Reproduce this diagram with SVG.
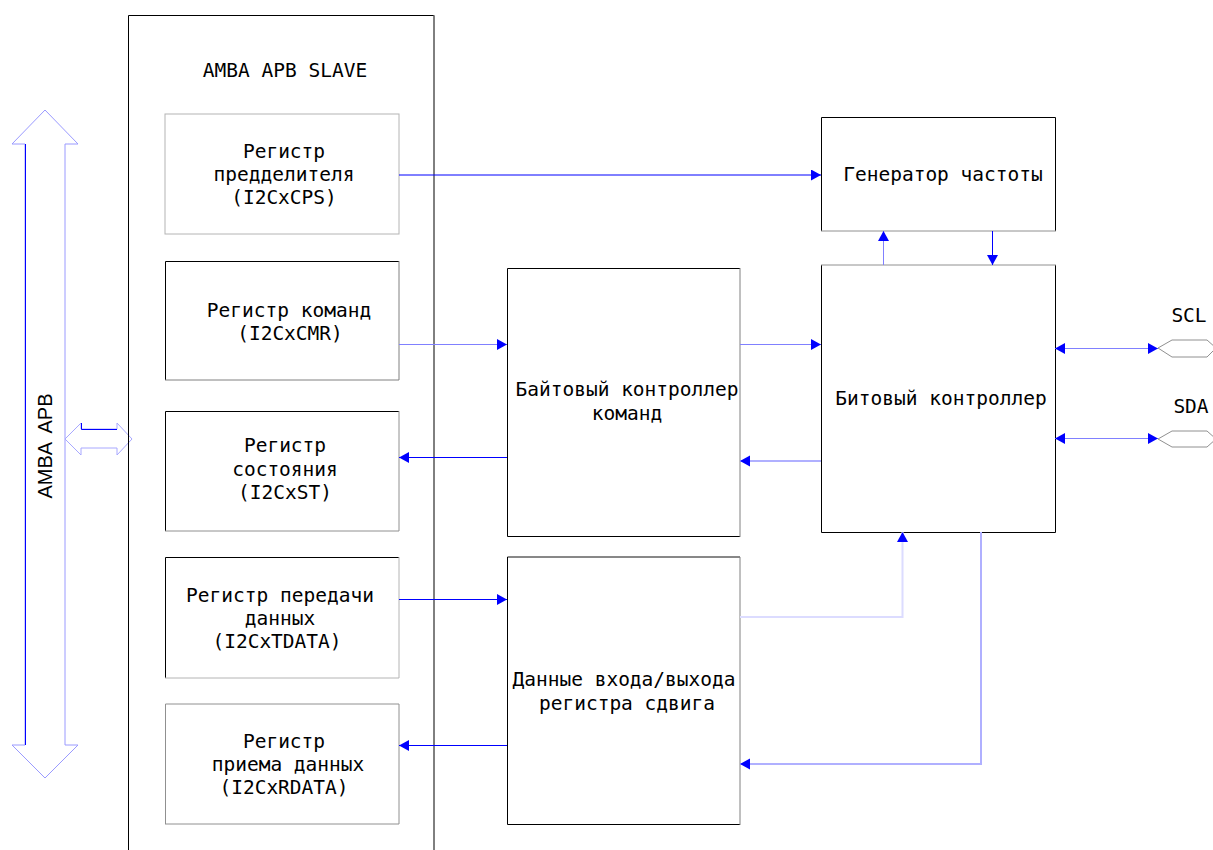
<svg xmlns="http://www.w3.org/2000/svg" width="1213" height="850" viewBox="0 0 1213 850">
  <style>
    .t { font-family: "DejaVu Sans Mono", "Liberation Mono", monospace; font-size: 19.5px; fill: #000; text-anchor: middle; }
    .boxg { fill: #fff; stroke: #b4b4b4; stroke-width: 1; }
    .c { fill: none; stroke: #0000ff; stroke-width: 1; }
    .cl { fill: none; stroke: #8080ff; stroke-width: 1; }
    .cxl { fill: none; stroke: #b0b0ff; stroke-width: 2; }
    .cxxl { fill: none; stroke: #dcdcff; stroke-width: 2; }
  </style>
  <defs>
    <marker id="ah" markerUnits="userSpaceOnUse" markerWidth="11" markerHeight="12" refX="10" refY="5.5" orient="auto">
      <path d="M0,0 L10,5.5 L0,11 Z" fill="#0000ff"/>
    </marker>
    <marker id="ahs" markerUnits="userSpaceOnUse" markerWidth="11" markerHeight="12" refX="10" refY="5.5" orient="auto-start-reverse">
      <path d="M0,0 L10,5.5 L0,11 Z" fill="#0000ff"/>
    </marker>
  </defs>
  <rect width="1213" height="850" fill="#fff"/>

  <!-- system bus -->
  <g id="amba-apb">
    <polygon points="45,110 78,144 65,144 65,745 78,745 45,778 12,745 25,745 25,144 12,144" fill="#fff" stroke="#9a9aff" stroke-width="1"/>
    <line x1="25.5" y1="144" x2="25.5" y2="745" stroke="#0000ff"/>
    <text transform="translate(52,446) rotate(-90)" text-anchor="middle" font-family="'Liberation Sans Narrow', 'Liberation Sans', sans-serif" font-size="20" word-spacing="5">AMBA APB</text>
  </g>

  <!-- bus to slave interface -->
  <g id="bus-link">
    <polygon points="65,439 81,423 81,429 117,429 117,423 132,439 117,455 117,448 81,448 81,455" fill="#fff" stroke="#a8a8ff" stroke-width="1"/>
    <polyline points="81.5,423 81.5,429.5 117,429.5" fill="none" stroke="#0000ff"/>
  </g>

  <!-- slave interface frame -->
  <g id="apb-slave">
    <path d="M434,860 L434,15.5 L128.5,15.5 L128.5,860" fill="none" stroke="#000"/>
    <line x1="434" y1="15" x2="434" y2="860" stroke="#808080"/>
    <text class="t" x="285" y="77">AMBA APB SLAVE</text>
  </g>

  <g id="reg-cps">
    <rect class="boxg" x="165" y="114" width="234" height="120"/>
    <text class="t" x="284" y="158">Регистр</text>
    <text class="t" x="284" y="181">предделителя</text>
    <text class="t" x="284" y="204">(I2CxCPS)</text>
  </g>

  <g id="reg-cmr">
    <path d="M165.5,380 L165.5,261.5 L399,261.5" fill="none" stroke="#000"/>
    <path d="M399,261 L399,380 L165,380" fill="none" stroke="#808080"/>
    <text class="t" x="289" y="317">Регистр команд</text>
    <text class="t" x="290" y="340">(I2CxCMR)</text>
  </g>

  <g id="reg-st">
    <path d="M165.5,531 L165.5,411.5 L399,411.5" fill="none" stroke="#000"/>
    <path d="M399,411 L399,531 L165,531" fill="none" stroke="#909090"/>
    <text class="t" x="285" y="452">Регистр</text>
    <text class="t" x="285" y="476">состояния</text>
    <text class="t" x="285" y="499">(I2CxST)</text>
  </g>

  <g id="reg-tdata">
    <path d="M165.5,678 L165.5,557.5 L399,557.5" fill="none" stroke="#000"/>
    <path d="M399,557 L399,678 L165,678" fill="none" stroke="#b4b4b4"/>
    <text class="t" x="280" y="602">Регистр передачи</text>
    <text class="t" x="280" y="625">данных</text>
    <text class="t" x="277" y="648">(I2CxTDATA)</text>
  </g>

  <g id="reg-rdata">
    <path d="M165.5,824 L165.5,704 L399,704" fill="none" stroke="#909090"/>
    <path d="M399,704 L399,824 L165,824" fill="none" stroke="#909090"/>
    <text class="t" x="284" y="748">Регистр</text>
    <text class="t" x="288" y="771">приема данных</text>
    <text class="t" x="284" y="794">(I2CxRDATA)</text>
  </g>

  <g id="byte-ctrl">
    <path d="M740,268.5 L507.5,268.5 L507.5,536.5 L740,536.5" fill="none" stroke="#000"/>
    <line x1="740" y1="268" x2="740" y2="537" stroke="#808080"/>
    <text class="t" x="627" y="396">Байтовый контроллер</text>
    <text class="t" x="627" y="420">команд</text>
  </g>

  <g id="shift-reg">
    <path d="M740,557 L507.5,557 L507.5,824.5 L740,824.5" fill="none" stroke="#000"/>
    <line x1="508" y1="557" x2="740" y2="557" stroke="#909090"/>
    <line x1="740" y1="557" x2="740" y2="825" stroke="#808080"/>
    <text class="t" x="624" y="686">Данные входа/выхода</text>
    <text class="t" x="627" y="710">регистра сдвига</text>
  </g>

  <g id="freq-gen">
    <path d="M821.5,231 L821.5,117.5 L1055.5,117.5 L1055.5,231" fill="none" stroke="#000"/>
    <line x1="821" y1="231" x2="1056" y2="231" stroke="#909090"/>
    <text class="t" x="943" y="181">Генератор частоты</text>
  </g>

  <g id="bit-ctrl">
    <path d="M1055.5,265 L1055.5,532.5 L821.5,532.5 L821.5,265" fill="none" stroke="#000"/>
    <line x1="821" y1="265" x2="1056" y2="265" stroke="#909090"/>
    <text class="t" x="941" y="405">Битовый контроллер</text>
  </g>

  <g id="scl-pin">
    <path d="M1158,348 L1172,340 L1207,340 L1216,348 L1207,357 L1172,357 Z" fill="#fff" stroke="#909090"/>
    <text font-family="'DejaVu Sans Mono', monospace" font-size="19.5" x="1189" y="322" text-anchor="middle">SCL</text>
  </g>

  <g id="sda-pin">
    <path d="M1158,439 L1172,431 L1207,431 L1216,439 L1207,447 L1172,447 Z" fill="#fff" stroke="#909090"/>
    <text font-family="'DejaVu Sans Mono', monospace" font-size="19.5" x="1191" y="413" text-anchor="middle">SDA</text>
  </g>

  <g id="connectors">
    <line class="c" x1="399" y1="175" x2="821" y2="175" stroke-width="1.2" marker-end="url(#ah)"/>
    <line class="cl" x1="399" y1="344.5" x2="507" y2="344.5" marker-end="url(#ah)"/>
    <line class="c" x1="507" y1="457.5" x2="399" y2="457.5" marker-end="url(#ah)"/>
    <line class="c" x1="399" y1="599.5" x2="507" y2="599.5" stroke="#4a4aff" marker-end="url(#ah)"/>
    <line class="c" x1="507" y1="745.5" x2="399" y2="745.5" marker-end="url(#ah)"/>
    <line class="cl" x1="740" y1="344.5" x2="821" y2="344.5" marker-end="url(#ah)"/>
    <line class="cxl" x1="821" y1="461" x2="740" y2="461" marker-end="url(#ah)"/>
    <line class="cl" x1="883.5" y1="265" x2="883.5" y2="231" marker-end="url(#ah)"/>
    <line class="c" x1="992.5" y1="231" x2="992.5" y2="265" marker-end="url(#ah)"/>
    <polyline class="cxxl" points="740,617 902.5,617 902.5,532" marker-end="url(#ah)"/>
    <polyline class="cxl" points="981,532 981,764 740,764" marker-end="url(#ah)"/>
    <line class="cl" x1="1055" y1="348.5" x2="1158" y2="348.5" stroke="#9a9aff" marker-start="url(#ahs)" marker-end="url(#ah)"/>
    <line class="cl" x1="1055" y1="438.5" x2="1158" y2="438.5" stroke="#5a5aff" marker-start="url(#ahs)" marker-end="url(#ah)"/>
  </g>
</svg>
